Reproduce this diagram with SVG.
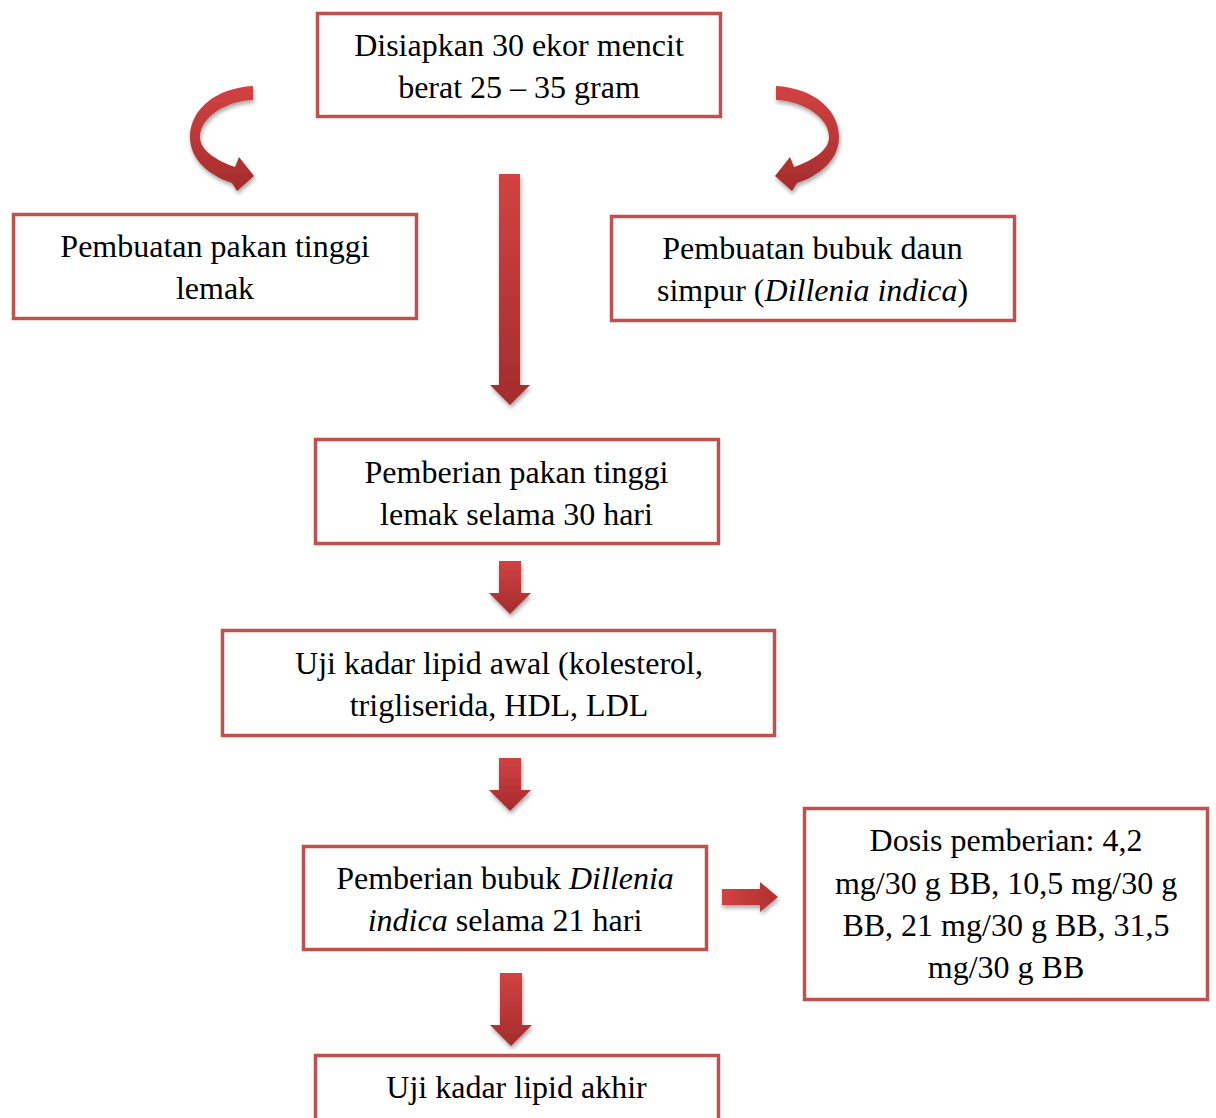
<svg xmlns="http://www.w3.org/2000/svg" width="1216" height="1118" viewBox="0 0 1216 1118">
<style>
.box{fill:#fff;stroke:#C0504D;stroke-width:3.5}
.t{font-family:"Liberation Serif","Times New Roman",serif;font-size:32px;fill:#000;text-anchor:middle}
.arr{fill:url(#g);filter:url(#sh)}
</style>
<defs>
<linearGradient id="g" x1="0" y1="0" x2="0" y2="1">
<stop offset="0" stop-color="#D24242"/>
<stop offset="1" stop-color="#A42C2C"/>
</linearGradient>
<linearGradient id="gh" x1="0" y1="0" x2="1" y2="0">
<stop offset="0" stop-color="#D24242"/>
<stop offset="1" stop-color="#B03030"/>
</linearGradient>
<filter id="sh" x="-30%" y="-30%" width="160%" height="160%">
<feGaussianBlur in="SourceAlpha" stdDeviation="2"/>
<feOffset dx="1" dy="3" result="b"/>
<feComponentTransfer><feFuncA type="linear" slope="0.35"/></feComponentTransfer>
<feMerge><feMergeNode/><feMergeNode in="SourceGraphic"/></feMerge>
</filter>
</defs>
<g id="connectors">
<path class="arr" d="M253,86 C215,88 190,110 190,137 C190,160 210,176 232,183 L237,191 L254,176 L239,157 L235,167 C215,160 200,150 200,137 C200,118 225,101 253,100 Z"/>
<path class="arr" d="M776,86 C814,88 839,110 839,137 C839,160 819,176 797,183 L792,191 L775,176 L790,157 L794,167 C814,160 829,150 829,137 C829,118 804,101 776,100 Z"/>
<path class="arr" d="M499,174 H520 V385 H530 L510,405 L490,385 H499 Z"/>
<path class="arr" d="M499,561 H521 V593 H531 L510,614 L489,593 H499 Z"/>
<path class="arr" d="M499,758 H521 V790 H531 L510,811 L489,790 H499 Z"/>
<path class="arr" d="M500,973 H522 V1025 H532 L511,1046 L490,1025 H500 Z"/>
<path class="arr" style="fill:url(#gh)" d="M722,889 H760 V882 L778,897 L760,912 V905 H722 Z"/>
</g>
<g id="n1"><rect class="box" x="317.5" y="13.5" width="403" height="103"/>
<text class="t" x="519" y="56">Disiapkan 30 ekor mencit</text>
<text class="t" x="519" y="98">berat 25 – 35 gram</text></g>
<g id="n2"><rect class="box" x="13.5" y="214.5" width="403" height="104"/>
<text class="t" x="215" y="257">Pembuatan pakan tinggi</text>
<text class="t" x="215" y="299">lemak</text></g>
<g id="n3"><rect class="box" x="611.5" y="216.5" width="403" height="104"/>
<text class="t" x="812.5" y="259">Pembuatan bubuk daun</text>
<text class="t" x="812.5" y="301">simpur (<tspan font-style="italic">Dillenia indica</tspan>)</text></g>
<g id="n4"><rect class="box" x="315.5" y="439.5" width="403" height="104"/>
<text class="t" x="516.5" y="483">Pemberian pakan tinggi</text>
<text class="t" x="516.5" y="525">lemak selama 30 hari</text></g>
<g id="n5"><rect class="box" x="222.5" y="630.5" width="552" height="105"/>
<text class="t" x="499" y="674">Uji kadar lipid awal (kolesterol,</text>
<text class="t" x="499" y="716">trigliserida, HDL, LDL</text></g>
<g id="n6"><rect class="box" x="303.5" y="846.5" width="403" height="103"/>
<text class="t" x="505" y="889">Pemberian bubuk <tspan font-style="italic">Dillenia</tspan></text>
<text class="t" x="505" y="931"><tspan font-style="italic">indica</tspan> selama 21 hari</text></g>
<g id="n7"><rect class="box" x="804.5" y="808.5" width="403" height="191"/>
<text class="t" x="1006" y="851">Dosis pemberian: 4,2</text>
<text class="t" x="1006" y="894">mg/30 g BB, 10,5 mg/30 g</text>
<text class="t" x="1006" y="936">BB, 21 mg/30 g BB, 31,5</text>
<text class="t" x="1006" y="978">mg/30 g BB</text></g>
<g id="n8"><rect class="box" x="315.5" y="1055.5" width="403" height="104"/>
<text class="t" x="516.5" y="1098">Uji kadar lipid akhir</text></g>
</svg>
